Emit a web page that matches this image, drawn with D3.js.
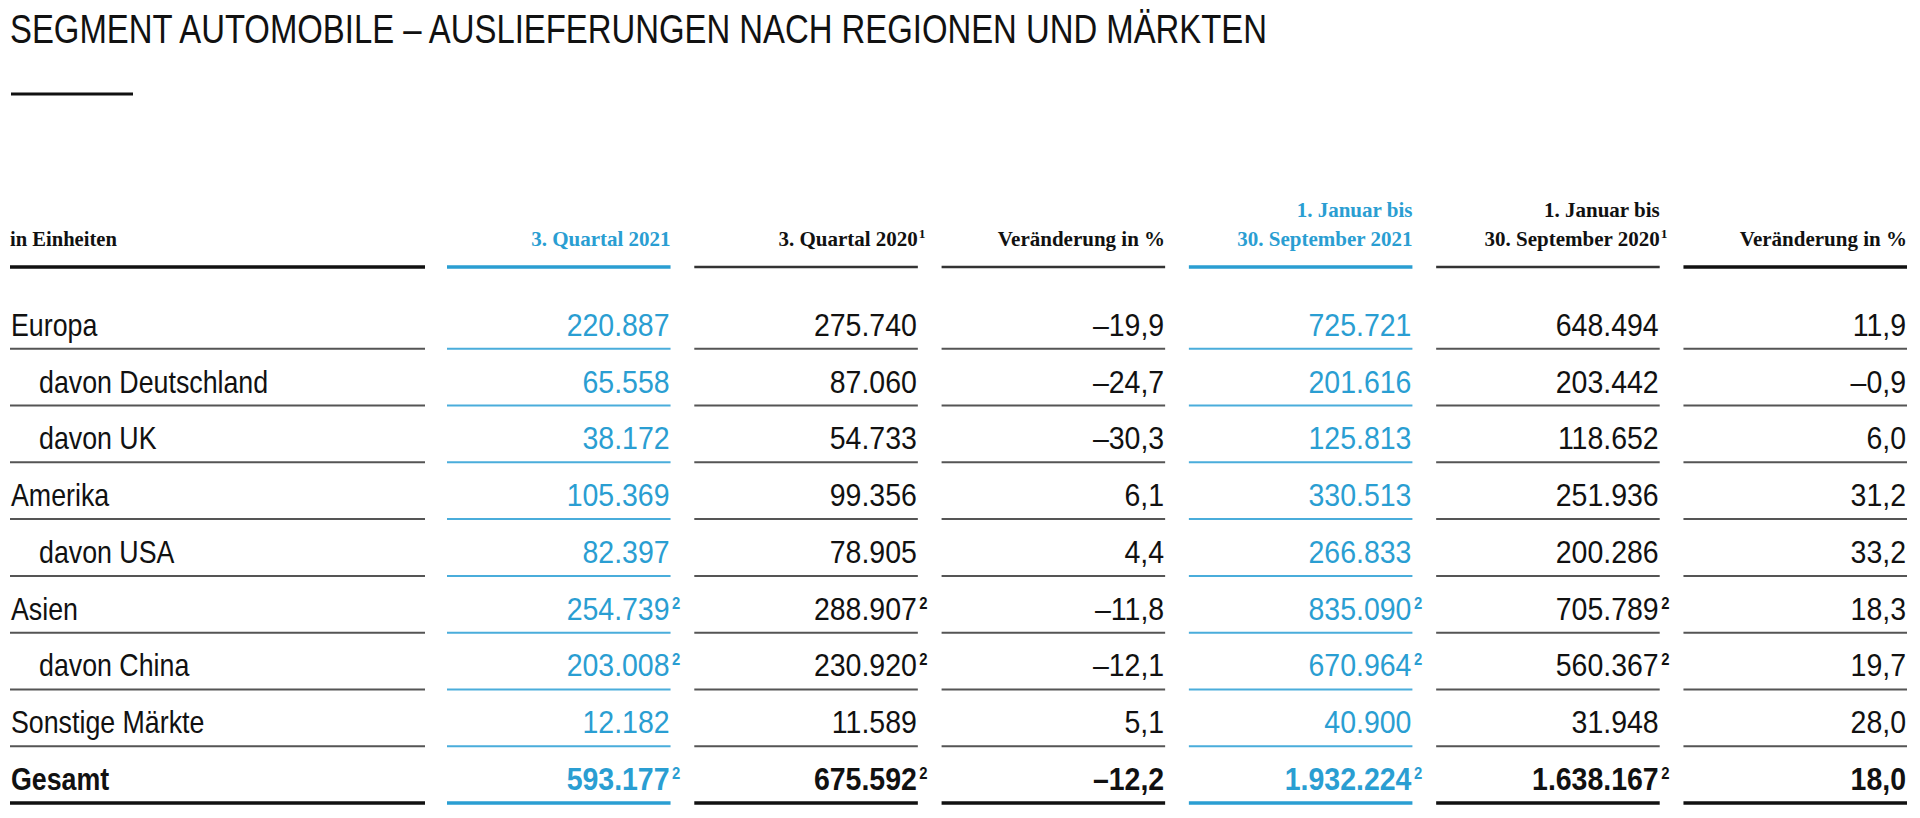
<!DOCTYPE html>
<html>
<head>
<meta charset="utf-8">
<script src="https://cdn.jsdelivr.net/npm/d3@7"></script>
<style>
  body { margin: 0; background: #fff; }
  svg { display: block; }
</style>
</head>
<body>
<div id="chart"></div>
<script>
// Table data (units delivered)
const regions = ["Europa", "davon Deutschland", "davon UK", "Amerika", "davon USA",
                 "Asien", "davon China", "Sonstige Märkte", "Gesamt"];
const subRow = [false, true, true, false, true, false, true, false, false];
const rowNote = ["", "", "", "", "", "2", "2", "", "2"];

const q3_2021  = [220887, 65558, 38172, 105369, 82397, 254739, 203008, 12182, 593177];
const q3_2020  = [275740, 87060, 54733, 99356, 78905, 288907, 230920, 11589, 675592];
const chg_q    = [-19.9, -24.7, -30.3, 6.1, 4.4, -11.8, -12.1, 5.1, -12.2];
const ytd_2021 = [725721, 201616, 125813, 330513, 266833, 835090, 670964, 40900, 1932224];
const ytd_2020 = [648494, 203442, 118652, 251936, 200286, 705789, 560367, 31948, 1638167];
const chg_ytd  = [11.9, -0.9, 6.0, 31.2, 33.2, 18.3, 19.7, 28.0, 18.0];

const colKeys = ["q3_2021", "q3_2020", "chg_q", "ytd_2021", "ytd_2020", "chg_ytd"];
const colHeaders = [["3. Quartal 2021"], ["3. Quartal 2020"], ["Veränderung in %"],
                    ["1. Januar bis", "30. September 2021"], ["1. Januar bis", "30. September 2020"],
                    ["Veränderung in %"]];
const colHeaderNote = ["", "1", "", "", "1", ""];
const colValues = [q3_2021, q3_2020, chg_q, ytd_2021, ytd_2020, chg_ytd];
const colIsPct = [false, false, true, false, false, true];
const colBlue = [true, false, false, true, false, false];

const title = "SEGMENT AUTOMOBILE – AUSLIEFERUNGEN NACH REGIONEN UND MÄRKTEN";
const unitLabel = "in Einheiten";

// Styling
const width = 1920, height = 818;
const blue = "#2a9ed2", ink = "#111";
const sansFont = "'Liberation Sans', Arial, sans-serif";
const serifFont = "'Liberation Serif', 'Times New Roman', serif";

const de = d3.formatLocale({ decimal: ",", thousands: ".", grouping: [3], currency: ["", " €"], minus: "–" });
const fmtInt = de.format(",d");
const fmtPct = de.format(",.1f");

const svg = d3.select("#chart").append("svg")
    .attr("width", width)
    .attr("height", height);

// Scales for columns and rows
const x = d3.scaleBand().domain(colKeys).range([447, 1907]).paddingInner(0.096);
const labelLeft = 10, labelRight = 425;
const y = d3.scaleBand().domain(regions).range([292, 803]);
const headerLineY = 267;

// Helper: condensed text via horizontal scale
function addText(x0, y0, str, o) {
    const g = svg.append("g").attr("transform", `translate(${x0},${y0}) scale(${o.sx || 1},1)`);
    return g.append("text")
        .attr("text-anchor", o.anchor || "start")
        .attr("font-family", o.font || sansFont)
        .attr("font-size", o.size)
        .attr("font-weight", o.weight || "normal")
        .attr("fill", o.fill || ink)
        .text(str);
}

// Title
svg.append("text")
    .attr("x", 10)
    .attr("y", 43)
    .attr("font-family", sansFont)
    .attr("font-size", 40.5)
    .attr("fill", ink)
    .attr("textLength", 1257)
    .attr("lengthAdjust", "spacingAndGlyphs")
    .text(title);

svg.append("line")
    .attr("x1", 11).attr("x2", 133)
    .attr("y1", 94).attr("y2", 94)
    .attr("stroke", ink).attr("stroke-width", 3);

// Header
addText(labelLeft, 246, unitLabel, { font: serifFont, size: 21, weight: "bold", sx: 0.98 });

colKeys.forEach((k, i) => {
    const right = x(k) + x.bandwidth();
    const lines = colHeaders[i];
    const color = colBlue[i] ? blue : ink;
    lines.forEach((ln, j) => {
        const by = 246 - (lines.length - 1 - j) * 29;
        addText(right, by, ln, { font: serifFont, size: 21, weight: "bold", anchor: "end", fill: color, sx: 1.0 });
    });
    if (colHeaderNote[i]) {
        addText(right + 1, 238, colHeaderNote[i], { font: serifFont, size: 13.5, weight: "bold", fill: color });
    }
});

// Header rules
svg.append("line")
    .attr("x1", labelLeft).attr("x2", labelRight)
    .attr("y1", headerLineY).attr("y2", headerLineY)
    .attr("stroke", ink).attr("stroke-width", 3.5);

svg.selectAll("line.hdr")
    .data(colKeys)
    .join("line")
    .attr("class", "hdr")
    .attr("x1", d => x(d))
    .attr("x2", d => x(d) + x.bandwidth())
    .attr("y1", headerLineY).attr("y2", headerLineY)
    .attr("stroke", (d, i) => colBlue[i] ? blue : (i === 5 ? ink : "#333"))
    .attr("stroke-width", (d, i) => (colBlue[i] || i === 5) ? 3.5 : 2.5);

// Rows
regions.forEach((r, ri) => {
    const isTotal = r === "Gesamt";
    const bottom = y(r) + y.step();
    const base = bottom - 13;
    const weight = isTotal ? "bold" : "normal";

    addText(subRow[ri] ? 39 : 11, base, r, { size: 31.5, weight: weight, sx: 0.85 });

    // row rule under the label
    svg.append("line")
        .attr("x1", labelLeft).attr("x2", labelRight)
        .attr("y1", bottom).attr("y2", bottom)
        .attr("stroke", isTotal ? ink : "#555")
        .attr("stroke-width", isTotal ? 3.5 : 2);

    colKeys.forEach((k, ci) => {
        const right = x(k) + x.bandwidth();
        const v = colValues[ci][ri];
        const color = colBlue[ci] ? blue : ink;
        addText(right - 1, base, colIsPct[ci] ? fmtPct(v) : fmtInt(v),
            { size: 32, weight: weight, anchor: "end", fill: color, sx: 0.89 });
        if (!colIsPct[ci] && rowNote[ri]) {
            addText(right + 1.5, base - 11, rowNote[ri], { size: 16.5, weight: "bold", fill: color, sx: 0.9 });
        }
        svg.append("line")
            .attr("x1", x(k)).attr("x2", right)
            .attr("y1", bottom).attr("y2", bottom)
            .attr("stroke", colBlue[ci] ? (isTotal ? blue : "#4aaddb") : (isTotal ? ink : "#555"))
            .attr("stroke-width", isTotal ? 3.5 : 2);
    });
});
</script>
</body>
</html>
